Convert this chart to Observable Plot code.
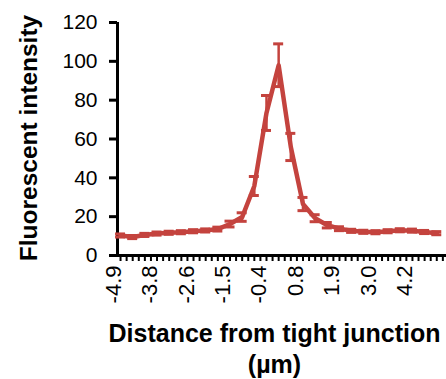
<!DOCTYPE html>
<html>
<head>
<meta charset="utf-8">
<script src="https://cdn.jsdelivr.net/npm/d3@7"></script>
<script src="https://cdn.jsdelivr.net/npm/@observablehq/plot@0.6"></script>
<style>
  html, body { margin: 0; padding: 0; background: #fff; }
  #chart svg { display: block; }
</style>
</head>
<body>
<div id="chart"></div>
<script>
// Distance from the tight junction (µm), one entry per sampled position
const distanceLabels = ["-4.9", "-4.5", "-4.1", "-3.8", "-3.4", "-3.0", "-2.6", "-2.3", "-1.9",
  "-1.5", "-1.1", "-0.8", "-0.4", "0.0", "0.4", "0.8", "1.1", "1.5", "1.9",
  "2.3", "2.6", "3.0", "3.4", "3.8", "4.2", "4.5", "4.9"];

// Mean fluorescent intensity at each position
const intensity = [10.3, 9.5, 10.6, 11.3, 11.7, 12.0, 12.5, 12.9, 13.6,
  16.2, 19.8, 35.8, 73.4, 98.0, 55.9, 26.5, 19.2, 15.6, 13.8,
  12.7, 12.2, 12.0, 12.5, 13.0, 12.8, 12.1, 11.5];

// Error (± half-height of each error bar)
const errorBars = [0.8, 0.8, 0.8, 0.8, 0.8, 0.8, 0.8, 0.8, 1.0,
  1.5, 2.2, 4.9, 9.0, 11.0, 7.0, 3.4, 1.8, 1.4, 1.0,
  0.8, 0.8, 0.8, 0.8, 0.8, 0.8, 0.8, 0.8];

const yTicks = [0, 20, 40, 60, 80, 100, 120];
const labelEvery = 3;

const red = "#C4433E";
const font = "'Liberation Sans', Arial, Helvetica, sans-serif";

const rows = distanceLabels.map((label, i) => ({
  i, label, v: intensity[i], e: errorBars[i]
}));
const labelled = rows.filter(d => d.i % labelEvery === 0);
// small tick marks at every category and halfway between
const tickPositions = rows.flatMap(d => [d.i, d.i + 0.5]);

const xDomain = [-0.25, 26.8];
const yDomain = [yTicks[0], yTicks[yTicks.length - 1]];

const chart = Plot.plot({
  width: 446,
  height: 379,
  marginLeft: 117,
  marginRight: 0,
  marginTop: 22,
  marginBottom: 124,
  style: { fontFamily: font, background: "#fff", color: "#000", overflow: "visible" },
  x: { type: "linear", domain: xDomain, axis: null },
  y: { type: "linear", domain: yDomain, axis: null },
  marks: [
    // axis lines
    Plot.ruleY([yDomain[0]], { stroke: "#000", strokeWidth: 3 }),
    Plot.ruleX([xDomain[0]], { stroke: "#000", strokeWidth: 3 }),
    // y ticks and labels
    Plot.ruleY(yTicks, { y: d => d, x1: xDomain[0], x2: xDomain[0], insetLeft: -8, stroke: "#000", strokeWidth: 3 }),
    Plot.text(yTicks, {
      y: d => d, text: d => String(d), frameAnchor: "left", textAnchor: "end",
      dx: -20, fontSize: 21, fill: "#000"
    }),
    // x ticks and rotated labels
    Plot.ruleX(tickPositions, { x: d => d, y1: yDomain[0], y2: yDomain[0], insetBottom: -6, stroke: "#000", strokeWidth: 2 }),
    Plot.text(labelled, {
      x: "i", text: "label", frameAnchor: "bottom", rotate: -90, textAnchor: "end",
      dy: 10, fontSize: 22, fill: "#000"
    }),
    // axis titles
    Plot.text(["Fluorescent intensity"], {
      frameAnchor: "left", rotate: -90, textAnchor: "middle", lineAnchor: "bottom",
      dx: -81, dy: -1, fontSize: 24.5, fontWeight: "bold", fill: "#000"
    }),
    Plot.text(["Distance from tight junction\n(µm)"], {
      frameAnchor: "bottom", textAnchor: "middle", lineAnchor: "bottom", lineHeight: 1.22,
      dx: -7.5, dy: 117, fontSize: 25, fontWeight: "bold", fill: "#000"
    }),
    // error bars
    Plot.ruleX(rows, { x: "i", y1: d => d.v - d.e, y2: d => d.v + d.e, stroke: red, strokeWidth: 2.5 }),
    Plot.ruleY(rows, { x1: "i", x2: "i", y: d => d.v + d.e, insetLeft: -5, insetRight: -5, stroke: red, strokeWidth: 3 }),
    Plot.ruleY(rows, { x1: "i", x2: "i", y: d => d.v - d.e, insetLeft: -5, insetRight: -5, stroke: red, strokeWidth: 3 }),
    // mean intensity profile
    Plot.line(rows, { x: "i", y: "v", stroke: red, strokeWidth: 4.5 })
  ]
});

document.getElementById("chart").append(chart);
</script>
</body>
</html>
